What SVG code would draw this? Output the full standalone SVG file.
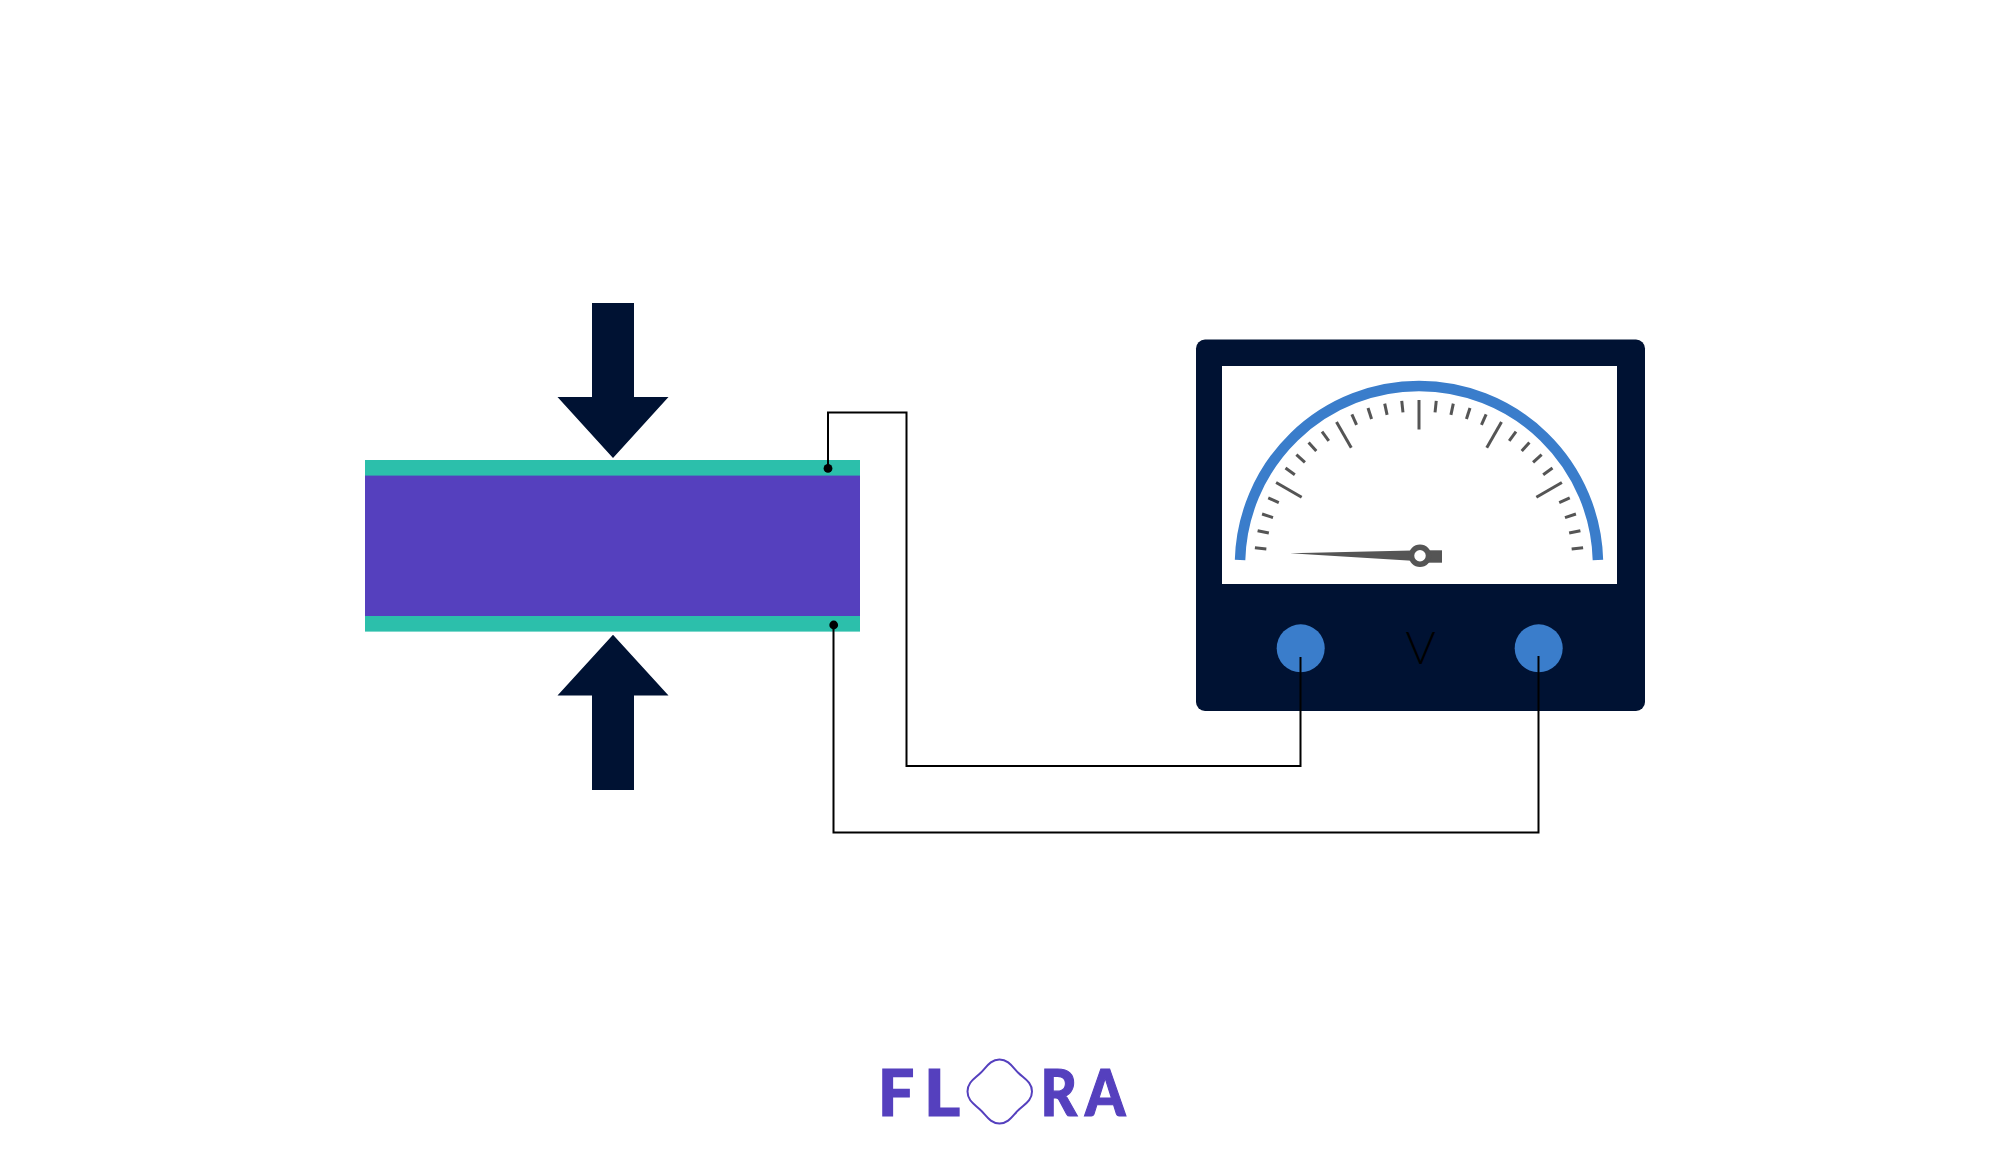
<svg xmlns="http://www.w3.org/2000/svg" xmlns:xlink="http://www.w3.org/1999/xlink" width="2010" height="1168" viewBox="0 0 2010 1168">
<style>
.navy{fill:#001233}.teal{fill:#2cbfab}.purple{fill:#5540be}.blue{fill:#3a7dcb}
.wire{fill:none;stroke:#000;stroke-width:2}
.dot{fill:#000}
.tick{stroke:#555;stroke-width:3;fill:none}
.logo{font-family:"Lato","Liberation Sans",sans-serif;font-weight:900;font-size:64px;fill:#5540be;stroke:#5540be;stroke-width:1.2}
</style>
<defs>
<line id="minor" class="tick" x1="1419" y1="400" x2="1419" y2="411.500"/>
<line id="major" class="tick" x1="1419" y1="400" x2="1419" y2="429.500"/>
</defs>
<rect width="2010" height="1168" fill="#fff"/>
<g id="plate">
<rect class="teal" x="365" y="460" width="495" height="171.600"/>
<rect class="purple" x="365" y="475.600" width="495" height="140.400"/>
</g>
<g id="arrow-top"><path class="navy" d="M592 303H634V397H668.500L613 458L557.500 397H592Z"/></g>
<g id="arrow-bottom"><path class="navy" d="M592 790H634V695.600H668.500L613 634.700L557.500 695.600H592Z"/></g>
<g id="meter">
<rect class="navy" x="1196" y="339.500" width="449" height="371.500" rx="9"/>
<rect x="1222" y="366" width="395" height="218" fill="#fff"/>
<path d="M1240.070 560A179 179 0 0 1 1597.930 560" fill="none" stroke="#3a7dcb" stroke-width="10.500"/>
<g id="ticks">
<use xlink:href="#minor" transform="rotate(-84 1419 565)"/><use xlink:href="#minor" transform="rotate(-78 1419 565)"/><use xlink:href="#minor" transform="rotate(-72 1419 565)"/><use xlink:href="#minor" transform="rotate(-66 1419 565)"/>
<use xlink:href="#major" transform="rotate(-60 1419 565)"/>
<use xlink:href="#minor" transform="rotate(-54 1419 565)"/><use xlink:href="#minor" transform="rotate(-48 1419 565)"/><use xlink:href="#minor" transform="rotate(-42 1419 565)"/><use xlink:href="#minor" transform="rotate(-36 1419 565)"/>
<use xlink:href="#major" transform="rotate(-30 1419 565)"/>
<use xlink:href="#minor" transform="rotate(-24 1419 565)"/><use xlink:href="#minor" transform="rotate(-18 1419 565)"/><use xlink:href="#minor" transform="rotate(-12 1419 565)"/><use xlink:href="#minor" transform="rotate(-6 1419 565)"/>
<use xlink:href="#major"/>
<use xlink:href="#minor" transform="rotate(6 1419 565)"/><use xlink:href="#minor" transform="rotate(12 1419 565)"/><use xlink:href="#minor" transform="rotate(18 1419 565)"/><use xlink:href="#minor" transform="rotate(24 1419 565)"/>
<use xlink:href="#major" transform="rotate(30 1419 565)"/>
<use xlink:href="#minor" transform="rotate(36 1419 565)"/><use xlink:href="#minor" transform="rotate(42 1419 565)"/><use xlink:href="#minor" transform="rotate(48 1419 565)"/><use xlink:href="#minor" transform="rotate(54 1419 565)"/>
<use xlink:href="#major" transform="rotate(60 1419 565)"/>
<use xlink:href="#minor" transform="rotate(66 1419 565)"/><use xlink:href="#minor" transform="rotate(72 1419 565)"/><use xlink:href="#minor" transform="rotate(78 1419 565)"/><use xlink:href="#minor" transform="rotate(84 1419 565)"/>
</g>
<g id="needle">
<path d="M1290 553.300L1412 550.500V560.800Z" fill="#555"/>
<path d="M1425 550.300H1442V562.700H1425Z" fill="#555"/>
<circle cx="1420" cy="555.700" r="8.500" fill="#fff" stroke="#555" stroke-width="5.500"/>
</g>
<circle class="blue" cx="1300.700" cy="648.300" r="24"/>
<circle class="blue" cx="1538.700" cy="648.300" r="24"/>
<text x="1420.700" y="664" text-anchor="middle" font-family="Lato,'Liberation Sans',sans-serif" font-weight="300" font-size="46" fill="#000">V</text>
</g>
<g id="connectors">
<path class="wire" d="M828 468V412.500H906.500V766H1300.500V657"/>
<path class="wire" d="M833.500 625V832.500H1538.500V656"/>
<circle class="dot" cx="828" cy="468.400" r="4.400"/>
<circle class="dot" cx="833.700" cy="625" r="4.400"/>
</g>
<g id="logo">
<text class="logo" x="878" y="1115.700">F</text>
<text class="logo" transform="translate(924 1115.700) scale(1.08 1)">L</text>
<path d="M999.500 1059.500C1009 1059.500 1013 1068 1018.500 1073C1024 1078.500 1032 1082 1032 1091.500C1032 1101 1024 1104.500 1018.500 1110C1013 1115 1009 1123.500 999.500 1123.500C990 1123.500 986 1115 980.500 1110C975 1104.500 967.500 1101 967.500 1091.500C967.500 1082 975 1078.500 980.500 1073C986 1068 990 1059.500 999.500 1059.500Z" fill="none" stroke="#5540be" stroke-width="2"/>
<text class="logo" transform="translate(1040.500 1115.700) scale(.88 1)">R</text>
<text class="logo" transform="translate(1085 1115.700) scale(.9 1)">A</text>
</g>
</svg>
